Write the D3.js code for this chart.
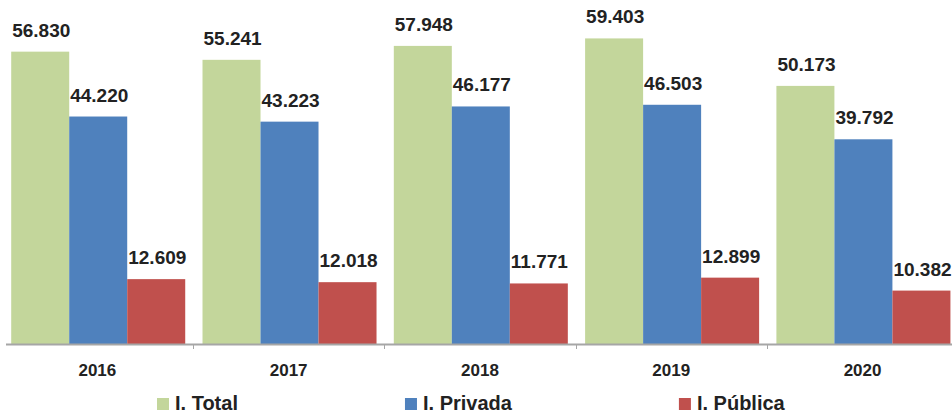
<!DOCTYPE html>
<html>
<head>
<meta charset="utf-8">
<script src="https://cdn.jsdelivr.net/npm/d3@7"></script>
<style>
  body { margin: 0; background: #fff; }
  svg { display: block; font-family: 'Liberation Sans', Arial, sans-serif; font-weight: bold; }
</style>
</head>
<body>
<div class="chart"></div>
<script>
const years = ['2016', '2017', '2018', '2019', '2020']
const seriesNames = ['I. Total', 'I. Privada', 'I. Pública']
const seriesColors = ['#c3d69b', '#4f81bd', '#c0504d']
const total = [56.830, 55.241, 57.948, 59.403, 50.173]
const privada = [44.220, 43.223, 46.177, 46.503, 39.792]
const publica = [12.609, 12.018, 11.771, 12.899, 10.382]

const width = 952
const height = 415
const baseY = 344
const x0 = 1.7
const groupW = 191.3

const values = [total, privada, publica]
const fmt = v => v.toFixed(3)

let svg = d3.select('.chart')
  .append('svg')
  .attr('width', width)
  .attr('height', height)

let xScale = d3.scaleBand()
  .domain(years)
  .range([x0, x0 + groupW * years.length])
  .paddingInner(0)
  .paddingOuter(0)

let innerScale = d3.scaleBand()
  .domain(d3.range(seriesNames.length))
  .range([0, xScale.bandwidth()])
  .paddingInner(0)
  .paddingOuter(0.149)
  .align(0.55)

let yScale = d3.scaleLinear()
  .domain([0, 66.87])
  .range([baseY, 0])

let groups = svg.selectAll('.group')
  .data(years)
  .enter()
  .append('g')
  .attr('class', 'group')
  .attr('transform', d => 'translate(' + xScale(d) + ',0)')

groups.each(function(year, yi) {
  let g = d3.select(this)
  values.forEach((arr, si) => {
    let v = arr[yi]
    g.append('rect')
      .attr('x', innerScale(si))
      .attr('y', yScale(v))
      .attr('width', innerScale.bandwidth())
      .attr('height', baseY - yScale(v))
      .attr('fill', seriesColors[si])
    g.append('text')
      .attr('x', innerScale(si) + 1)
      .attr('y', yScale(v) - 15)
      .attr('font-size', 19)
      .attr('fill', '#222')
      .text(fmt(v))
  })
})

// category axis
const xAxis = d3.axisBottom(xScale).tickSize(0).tickPadding(0)
let axisG = svg.append('g')
  .attr('transform', 'translate(0,' + baseY + ')')
  .call(xAxis)
axisG.select('.domain').remove()
axisG.selectAll('text')
  .attr('y', 32)
  .attr('dy', 0)
  .attr('font-size', 17)
  .attr('font-family', "'Liberation Sans', Arial, sans-serif")
  .attr('font-weight', 'bold')
  .attr('fill', '#222')

svg.append('line')
  .attr('x1', 6)
  .attr('x2', width)
  .attr('y1', baseY + 0.5)
  .attr('y2', baseY + 0.5)
  .attr('stroke', '#a6a6a6')
  .attr('stroke-width', 2)

svg.selectAll('.tickmark')
  .data(years.slice(1).concat(['end']))
  .enter()
  .append('line')
  .attr('class', 'tickmark')
  .attr('x1', (d, i) => Math.round(xScale.range()[0] + groupW * (i + 1)) + 0.5)
  .attr('x2', (d, i) => Math.round(xScale.range()[0] + groupW * (i + 1)) + 0.5)
  .attr('y1', baseY)
  .attr('y2', baseY + 5)
  .attr('stroke', '#a6a6a6')

// legend
let legend = svg.append('g')
let lx = 157
seriesNames.forEach((name, i) => {
  legend.append('rect')
    .attr('x', lx)
    .attr('y', 398)
    .attr('width', 12)
    .attr('height', 12)
    .attr('fill', seriesColors[i])
  let t = legend.append('text')
    .attr('x', lx + 18)
    .attr('y', 410)
    .attr('font-size', 20)
    .attr('fill', '#222')
    .text(name)
  lx += 18 + t.node().getComputedTextLength() + 167
})
</script>
</body>
</html>
